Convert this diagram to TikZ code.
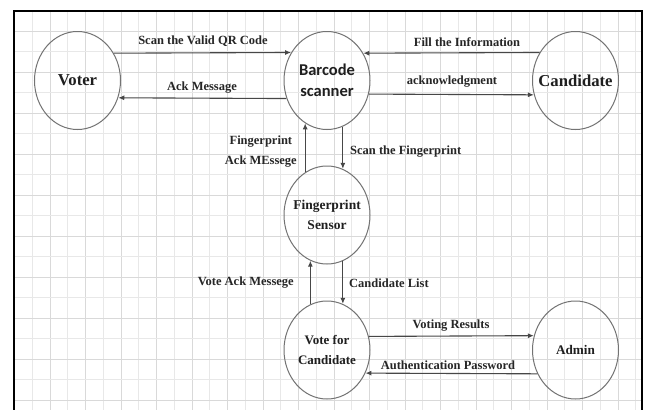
\documentclass[tikz,border=0pt]{standalone}
\usepackage{fontspec}
\setmainfont{Liberation Serif}
\newfontfamily\barfont{Carlito}
\usetikzlibrary{shapes.geometric,arrows.meta}
\begin{document}
\begin{tikzpicture}[x=1pt,y=-1pt,
  proc/.style={ellipse, draw=black!55, line width=1pt, minimum width=86pt, minimum height=98pt,
    inner xsep=-12pt, inner ysep=0pt, align=center, text=black!88},
  bigf/.style={font=\bfseries\fontsize{16.7}{20}\selectfont},
  midf/.style={font=\bfseries\fontsize{13.5}{20}\selectfont},
  flow/.style={draw=black!72, line width=1.1pt, -{Latex[length=6pt,width=5pt]}},
  lbl/.style={font=\bfseries\fontsize{12.5}{20}\selectfont, text=black!85, inner sep=0pt, align=center},
  gridminor/.style={draw=black!9, line width=0.8pt},
  gridmajor/.style={draw=black!15, line width=0.9pt},
]
\clip (0,0) rectangle (649,410);
\fill[white] (0,0) rectangle (649,410);
% grid
\foreach \i in {1,...,35} {
  \pgfmathtruncatemacro{\odd}{mod(\i,2)}
  \ifnum\odd=0
    \draw[gridmajor] ({14.5+17.75*\i},10.5) -- ({14.5+17.75*\i},420);
  \else
    \draw[gridminor] ({14.5+17.75*\i},10.5) -- ({14.5+17.75*\i},420);
  \fi
}
\foreach \k in {1,...,19} {
  \pgfmathtruncatemacro{\odd}{mod(\k,2)}
  \ifnum\odd=1
    \draw[gridmajor] (14.5,{10.5+20.5*\k}) -- (642,{10.5+20.5*\k});
  \else
    \draw[gridminor] (14.5,{10.5+20.5*\k}) -- (642,{10.5+20.5*\k});
  \fi
}
\draw[line width=2pt] (14,10.5) rectangle (642,430);

% processes
\node[proc,bigf] (voter) at (77.5,80.5) {Voter};
\node[proc,font=\barfont\bfseries\fontsize{16.5}{21}\selectfont] (barcode) at (327,80.5) {Barcode\\scanner};
\node[proc,bigf] (cand) at (575.5,80.5) {Candidate};
\node[proc,midf] (fp) at (327,215) {Fingerprint\\Sensor};
\node[proc,font=\bfseries\fontsize{13}{20}\selectfont] (vote) at (327,350) {Vote for\\Candidate};
\node[proc,font=\bfseries\fontsize{13.2}{20}\selectfont] (admin) at (575.5,350) {Admin};

% flows
\draw[flow] (voter.37.7) -- (barcode.142.3);
\draw[flow] (barcode.-156.5) -- (voter.-23.5);
\draw[flow] (cand.142.3) -- (barcode.37.7);
\draw[flow] (barcode.-18.1) -- (cand.-161.9);
\draw[flow] (barcode.-71.9) -- (fp.71.9);
\draw[flow] (fp.117.6) -- (barcode.-117.6);
\draw[flow] (vote.110.7) -- (fp.-110.7);
\draw[flow] (fp.-71.9) -- (vote.71.9);
\draw[flow] (vote.18.8) -- (admin.161.2);
\draw[flow] (admin.-148.8) -- (vote.-31.2);

% labels
\node[lbl] (l1) at (203,41) {Scan the Valid QR Code};
\node[lbl] (l2) at (202,88) {Ack Message};
\node[lbl] (l3) at (467,42) {Fill the Information};
\node[lbl] (l4) at (452,82) {acknowledgment};
\node[lbl,anchor=west] (l5) at (350,152) {Scan the Fingerprint};
\node[lbl,anchor=east] (l6) at (297,152) {Fingerprint\\Ack MEssege};
\node[lbl,anchor=east] (l7) at (294,283) {Vote Ack Messege};
\node[lbl,anchor=west] (l8) at (349,283) {Candidate List};
\node[lbl] (l9) at (451,326) {Voting Results};
\node[lbl] (l10) at (448,365) {Authentication Password};
\end{tikzpicture}
\end{document}
